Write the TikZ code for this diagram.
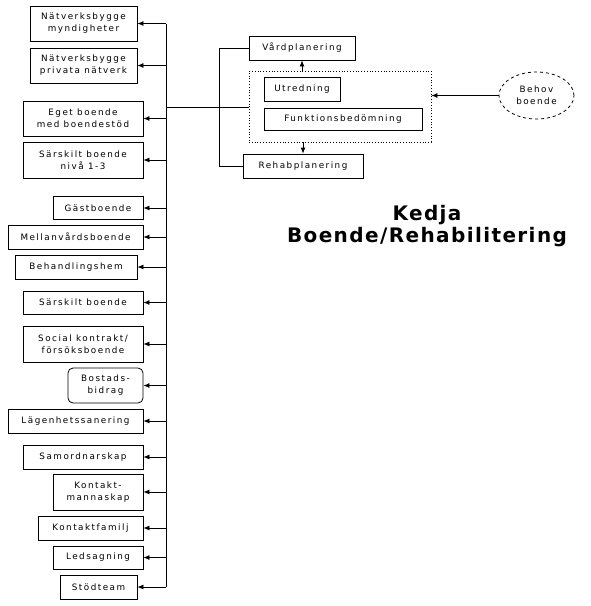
\documentclass[tikz,border=0pt]{standalone}
\usepackage{fontspec}
\usetikzlibrary{arrows.meta,shapes.geometric}
\newfontfamily\boxfont[LetterSpace=17]{DejaVu Sans}
\newfontfamily\titlefont[LetterSpace=7]{DejaVu Sans}
\begin{document}
\begin{tikzpicture}[x=1pt, y=-1pt, line width=0.8pt,
  box/.style={draw, align=center, inner sep=0pt, font=\boxfont\fontsize{8.8}{12}\selectfont},
  arr/.style={-{Latex[length=6pt,width=5pt]}}]
  \useasboundingbox (0,0) rectangle (590,606);
  % left column
  \node[box, minimum width=107, minimum height=35] (natmyn) at (83.5,23.5) {Nätverksbygge\\myndigheter};
  \node[box, minimum width=107, minimum height=35] (natpriv) at (83.5,65.5) {Nätverksbygge\\privata nätverk};
  \node[box, minimum width=120, minimum height=35] (eget) at (83,118.5) {Eget boende\\med boendestöd};
  \node[box, minimum width=120, minimum height=36] (sarsk13) at (83,160) {Särskilt boende\\nivå 1-3};
  \node[box, minimum width=90, minimum height=23] (gast) at (98,208) {Gästboende};
  \node[box, minimum width=135, minimum height=24] (mellan) at (75.5,237) {Mellanvårdsboende};
  \node[box, minimum width=122, minimum height=24] (behand) at (76,267) {Behandlingshem};
  \node[box, minimum width=120, minimum height=23] (sarsk) at (83,302.5) {Särskilt boende};
  \node[box, minimum width=120, minimum height=36] (social) at (83,344) {Social kontrakt/\\försöksboende};
  \node[box, rounded corners=5pt, minimum width=75, minimum height=35] (bostad) at (105.5,385.5) {Bostads-\\bidrag};
  \node[box, minimum width=135, minimum height=24] (lagen) at (75.5,421) {Lägenhetssanering};
  \node[box, minimum width=120, minimum height=24] (samord) at (83,457) {Samordnarskap};
  \node[box, minimum width=90, minimum height=36] (kontm) at (98,492) {Kontakt-\\mannaskap};
  \node[box, minimum width=105, minimum height=24] (kontf) at (90.5,528) {Kontaktfamilj};
  \node[box, minimum width=90, minimum height=23] (leds) at (98,557.5) {Ledsagning};
  \node[box, minimum width=77, minimum height=24] (stod) at (98.5,587) {Stödteam};
  % bus
  \coordinate (bus) at (166,24);
  \coordinate (busend) at (166,587);
  \draw (bus) -- (busend);
  \foreach \n in {natmyn,natpriv,eget,sarsk13,gast,mellan,behand,sarsk,social,bostad,lagen,samord,kontm,kontf,leds,stod}
    \draw[arr] (\n.east -| bus) -- (\n.east);
  % right part
  \node[box, minimum width=106, minimum height=24] (vard) at (302,48) {Vårdplanering};
  \node[draw, dotted, minimum width=182, minimum height=71, inner sep=0pt] (group) at (340,106.5) {};
  \node[box, minimum width=76, minimum height=24] (utred) at (302,89) {Utredning};
  \node[box, minimum width=158, minimum height=22] (funk) at (343,119) {Funktionsbedömning};
  \node[box, minimum width=120, minimum height=24] (rehab) at (303,166) {Rehabplanering};
  \node[ellipse, draw, dashed, minimum width=75, minimum height=47, inner sep=0pt, align=center,
    font=\boxfont\fontsize{8.8}{12}\selectfont] (behov) at (536.5,95.5) {Behov\\boende};
  \coordinate (junc) at (166,107);
  \draw (junc) -- (group.west |- junc);
  \coordinate (brk) at (219,48);
  \draw (vard.west) -- (brk) |- (rehab.west);
  \draw[arr] (group.north -| vard.south) -- (vard.south);
  \draw[arr] (group.south -| rehab.north) -- (rehab.north);
  \draw[arr] (behov.west) -- (behov.west -| group.east);
  % title
  \node[font=\titlefont\bfseries\fontsize{20}{22}\selectfont, align=center] (title) at (427,226) {Kedja\\Boende/Rehabilitering};
\end{tikzpicture}
\end{document}
